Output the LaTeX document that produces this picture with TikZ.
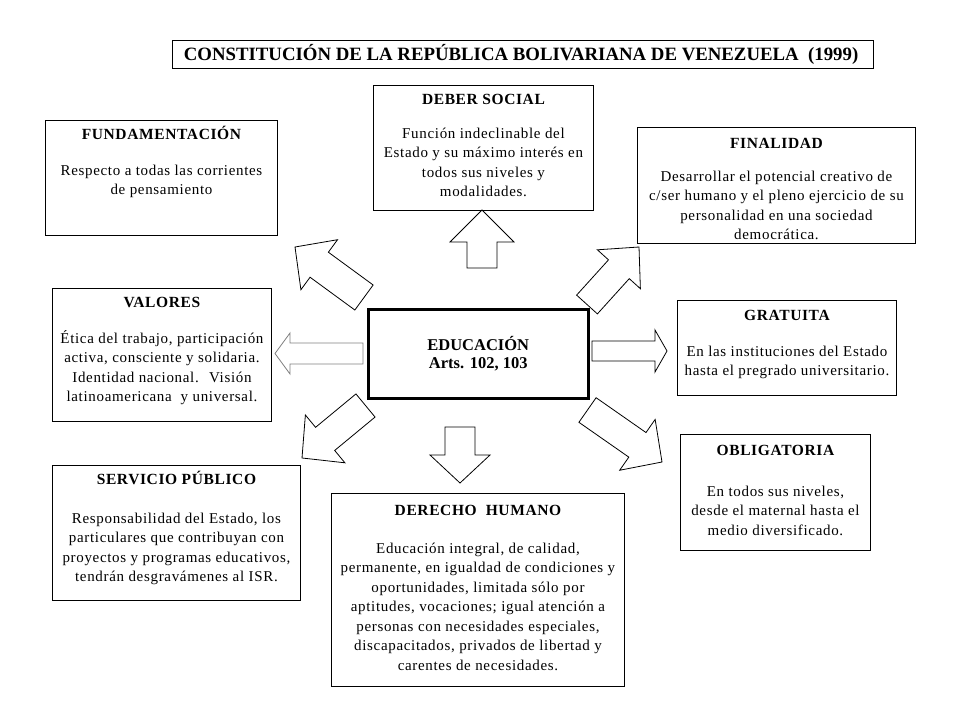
\documentclass[tikz,border=0pt]{standalone}
\usepackage{fontspec}
\setmainfont{Liberation Serif}
\usetikzlibrary{calc}
\newcommand{\bodyfnt}{\fontsize{15}{19.5}\selectfont\addfontfeatures{LetterSpace=4.5}}
\newcommand{\hdfnt}{\fontsize{15.5}{19.5}\selectfont\bfseries\addfontfeatures{LetterSpace=4}}
\newcommand{\hd}[1]{\rule{0pt}{13.5pt}{\hdfnt #1}}
\tikzset{
  frame/.style={draw, line width=0.9pt, inner sep=0pt, anchor=north west},
  txt/.style={align=center, inner sep=0pt, anchor=north, font=\bodyfnt},
  barrow/.style={draw, line width=0.8pt, fill=white, line join=miter},
}
% name, tail, tip, shaft half width, head half width, head length
\newcommand{\blockarr}[7][]{%
  \coordinate (#2-b) at ($(#4)!#7!(#3)$);
  \draw[barrow,#1] ($(#3)!#5!90:(#4)$) -- ($(#2-b)!#5!90:(#4)$) -- ($(#2-b)!#6!90:(#4)$)
    -- (#4) -- ($(#2-b)!#6!-90:(#4)$) -- ($(#2-b)!#5!-90:(#4)$) -- ($(#3)!#5!-90:(#4)$) -- cycle;}
\begin{document}
\begin{tikzpicture}[x=1pt,y=-1pt]
\useasboundingbox (0,0) rectangle (960,720);
\fill[white] (0,0) rectangle (960,720);

% frames
\node[frame, line width=1.2pt, minimum width=701pt, minimum height=28pt] (title) at (172,40) {};
\node[font=\fontsize{18.8}{20}\selectfont\bfseries, inner sep=0pt] (title-t) at ($(title.center)+(-2,0)$)
  {CONSTITUCIÓN DE LA REPÚBLICA BOLIVARIANA DE VENEZUELA \ (1999)};

\node[frame, minimum width=220pt, minimum height=125pt] (deber) at (373,85) {};
\node[frame, minimum width=232pt, minimum height=115pt] (fund) at (45,120) {};
\node[frame, minimum width=278pt, minimum height=116pt] (fin) at (637,127) {};
\node[frame, minimum width=219pt, minimum height=133pt] (val) at (52,288) {};
\node[frame, line width=2.5pt, minimum width=220pt, minimum height=89pt] (edu) at (367,308) {};
\node[frame, minimum width=219pt, minimum height=95pt] (grat) at (677,300) {};
\node[frame, minimum width=190pt, minimum height=116pt] (obl) at (680,434) {};
\node[frame, minimum width=248pt, minimum height=135pt] (serv) at (52,465) {};
\node[frame, minimum width=293pt, minimum height=193pt] (der) at (331,493) {};

% texts
\node[txt] (deber-t) at ($(deber.north)+(0,5.3)$)
  {\hd{DEBER SOCIAL}\\[14.5pt]Función indeclinable del\\Estado y su máximo interés en\\todos sus niveles y\\modalidades.};
\node[txt] (fund-t) at ($(fund.north)+(0,5.3)$)
  {\hd{FUNDAMENTACIÓN}\\[16.5pt]Respecto a todas las corrientes\\de pensamiento};
\node[txt] (fin-t) at ($(fin.north)+(0,7.3)$)
  {\hd{FINALIDAD}\\[13.5pt]Desarrollar el potencial creativo de\\c/ser humano y el pleno ejercicio de su\\personalidad en una sociedad\\democrática.};
\node[txt] (val-t) at ($(val.north)+(0,5.3)$)
  {\hd{VALORES}\\[16.5pt]Ética del trabajo, participación\\activa, consciente y solidaria.\\Identidad nacional. \ Visión\\latinoamericana \ y universal.};
\node[txt, anchor=center, font=\fontsize{16.5}{18}\selectfont\bfseries] (edu-t) at ($(edu.center)+(0,0)$)
  {EDUCACIÓN\\Arts. 102, 103};
\node[txt] (grat-t) at ($(grat.north)+(0,6.3)$)
  {\hd{GRATUITA}\\[16.5pt]En las instituciones del Estado\\hasta el pregrado universitario.};
\node[txt] (obl-t) at ($(obl.north)+(0,7.3)$)
  {\hd{OBLIGATORIA}\\[21.5pt]En todos sus niveles,\\desde el maternal hasta el\\medio diversificado.};
\node[txt] (serv-t) at ($(serv.north)+(0,5.3)$)
  {\hd{SERVICIO PÚBLICO}\\[19.5pt]Responsabilidad del Estado, los\\particulares que contribuyan con\\proyectos y programas educativos,\\tendrán desgravámenes al ISR.};
\node[txt] (der-t) at ($(der.north)+(0,8.3)$)
  {\hd{DERECHO \ HUMANO}\\[18.5pt]Educación integral, de calidad,\\permanente, en igualdad de condiciones y\\oportunidades, limitada sólo por\\aptitudes, vocaciones; igual atención a\\personas con necesidades especiales,\\discapacitados, privados de libertad y\\carentes de necesidades.};

% block arrows
\coordinate (aU-t) at (482,268);   \coordinate (aU-p) at (482,210);
\coordinate (aD-t) at (460,427);   \coordinate (aD-p) at (460,483);
\coordinate (aL-t) at (363,353.5); \coordinate (aL-p) at (275,353.5);
\coordinate (aR-t) at (592,351);   \coordinate (aR-p) at (667,351);
\coordinate (aUL-t) at (364,297.5); \coordinate (aUL-p) at (295,247);
\coordinate (aUR-t) at (587,304.5); \coordinate (aUR-p) at (639,247);
\coordinate (aDL-t) at (365.5,405.5); \coordinate (aDL-p) at (302,458);
\coordinate (aDR-t) at (587.5,410); \coordinate (aDR-p) at (662,462);

\blockarr{aU}{aU-t}{aU-p}{15pt}{32pt}{32pt}
\blockarr{aD}{aD-t}{aD-p}{15pt}{30pt}{28pt}
\blockarr[draw=gray]{aL}{aL-t}{aL-p}{10.5pt}{20.5pt}{15pt}
\blockarr{aR}{aR-t}{aR-p}{10pt}{21pt}{12pt}
\blockarr{aUL}{aUL-t}{aUL-p}{15.5pt}{31pt}{30pt}
\blockarr{aUR}{aUR-t}{aUR-p}{14pt}{29pt}{30pt}
\blockarr{aDL}{aDL-t}{aDL-p}{15pt}{31pt}{30pt}
\blockarr{aDR}{aDR-t}{aDR-p}{15pt}{31pt}{30pt}
\end{tikzpicture}
\end{document}
